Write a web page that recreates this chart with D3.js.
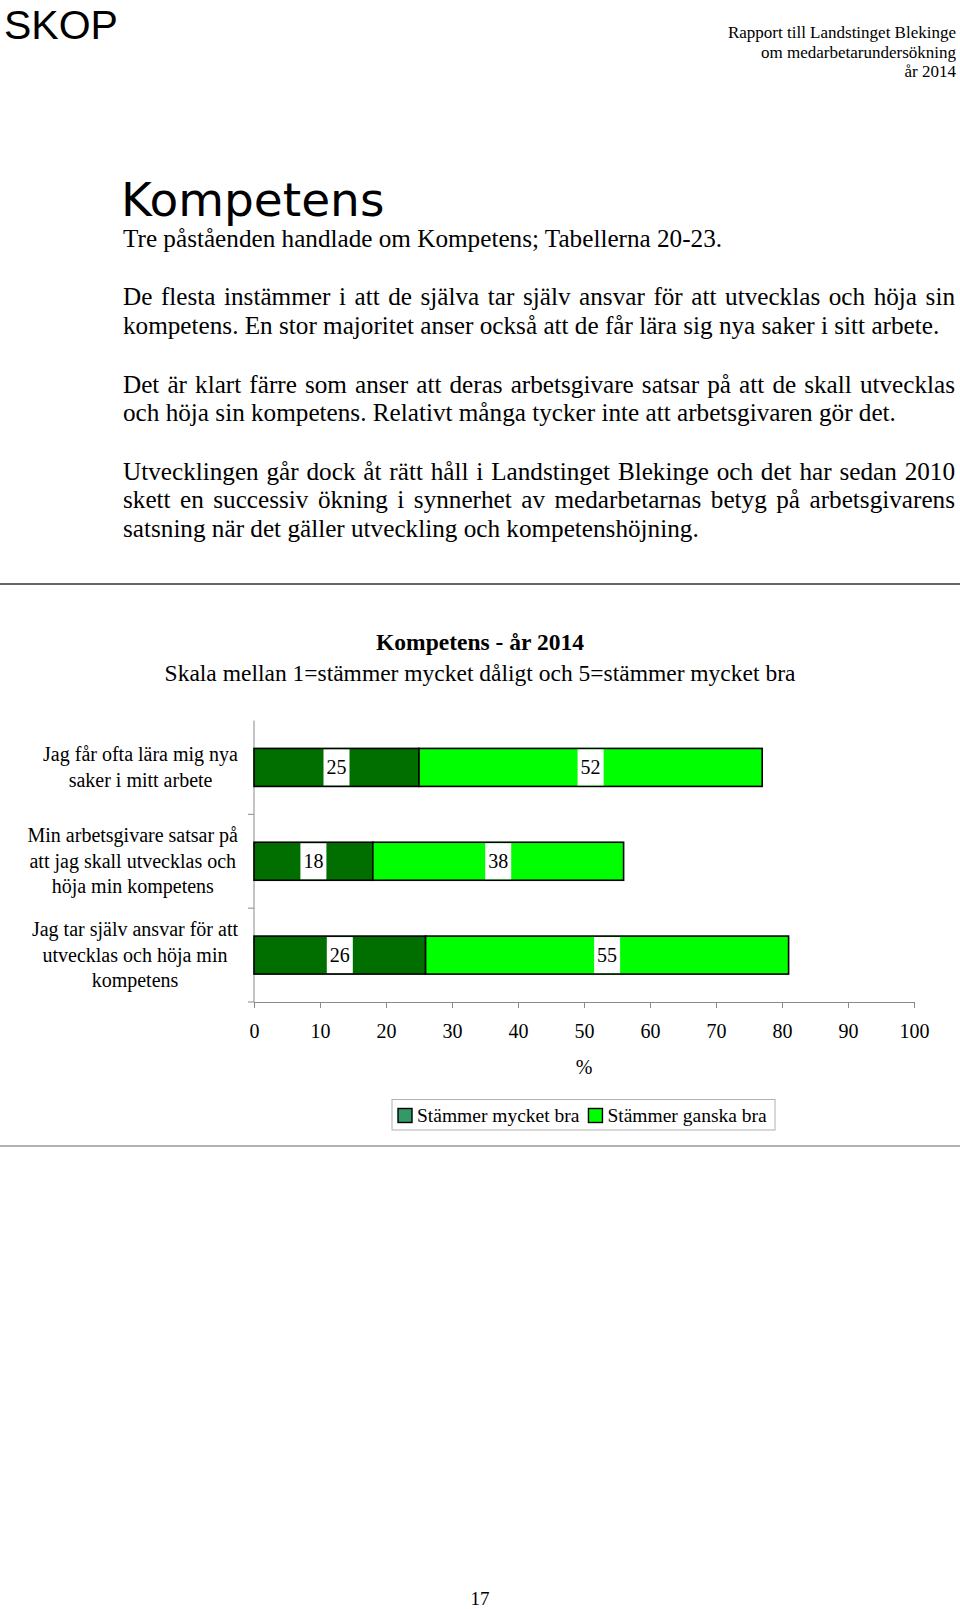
<!DOCTYPE html>
<html><head><meta charset="utf-8">
<script src="https://cdn.jsdelivr.net/npm/d3@7"></script>
<style>body{margin:0;background:#fff} svg{display:block}</style>
</head><body>
<svg id="page" width="960" height="1609"></svg>
<script>
// ---------- data ----------
const categoryLines = [
  ["Jag får ofta lära mig nya", "saker i mitt arbete"],
  ["Min arbetsgivare satsar på", "att jag skall utvecklas och", "höja min kompetens"],
  ["Jag tar själv ansvar för att", "utvecklas och höja min", "kompetens"]
];
const categories = categoryLines.map(l => l.join(" "));
const seriesNames = ["Stämmer mycket bra", "Stämmer ganska bra"];
const mycketBra = [25, 18, 26];
const ganskaBra = [52, 38, 55];
const xTickValues = [0, 10, 20, 30, 40, 50, 60, 70, 80, 90, 100];
const chartTitle = "Kompetens - år 2014";
const chartSubtitle = "Skala mellan 1=stämmer mycket dåligt och 5=stämmer mycket bra";
const xAxisTitle = "%";
const headerLeft = "SKOP";
const headerRight = ["Rapport till Landstinget Blekinge", "om medarbetarundersökning", "år 2014"];
const pageHeading = "Kompetens";
const paragraphs = [
  ["Tre påståenden handlade om Kompetens; Tabellerna 20-23."],
  ["De flesta instämmer i att de själva tar själv ansvar för att utvecklas och höja sin",
   "kompetens. En stor majoritet anser också att de får lära sig nya saker i sitt arbete."],
  ["Det är klart färre som anser att deras arbetsgivare satsar på att de skall utvecklas",
   "och höja sin kompetens. Relativt många tycker inte att arbetsgivaren gör det."],
  ["Utvecklingen går dock åt rätt håll i Landstinget Blekinge och det har sedan 2010",
   "skett en successiv ökning i synnerhet av medarbetarnas betyg på arbetsgivarens",
   "satsning när det gäller utveckling och kompetenshöjning."]
];
const pageNumber = "17";

// ---------- styles ----------
const serif = "'Liberation Serif','Times New Roman',serif";
const sans = "'Liberation Sans',Arial,sans-serif";
const colors = ["#006f00", "#00ff00"];
const legendColors = ["#339966", "#00ff00"];

const svg = d3.select("#page");
svg.append("rect").attr("width", 960).attr("height", 1609).attr("fill", "#fff");

// ---------- header ----------
svg.append("text").attr("x", 4).attr("y", 38.5).attr("font-family", sans)
  .attr("font-size", 41).attr("fill", "#000").text(headerLeft);
headerRight.forEach((t, i) => {
  svg.append("text").attr("x", 956).attr("y", 38 + i * 19.5).attr("text-anchor", "end")
    .attr("font-family", serif).attr("font-size", 17).attr("fill", "#000").text(t);
});

svg.append("text").attr("x", 121).attr("y", 216).attr("font-family", "'DejaVu Sans',Verdana,sans-serif")
  .attr("font-size", 47).attr("fill", "#000").text(pageHeading);

// ---------- body text with justification ----------
const bodySize = 25.2, bodyLeft = 123, bodyRight = 955;
const lineBaselines = [[246.5], [305, 334], [392.5, 421], [479.5, 508, 537]];
function measure(word) {
  const t = svg.append("text").attr("font-family", serif).attr("font-size", bodySize).text(word);
  const w = t.node().getComputedTextLength();
  t.remove();
  return w;
}
paragraphs.forEach((lines, pi) => {
  lines.forEach((line, li) => {
    const y = lineBaselines[pi][li];
    const isLast = li === lines.length - 1;
    const txt = svg.append("text").attr("font-family", serif).attr("font-size", bodySize)
      .attr("fill", "#000").attr("y", y);
    if (isLast) {
      txt.attr("x", bodyLeft).text(line);
    } else {
      const words = line.split(" ");
      const widths = words.map(measure);
      const total = d3.sum(widths);
      const gap = (bodyRight - bodyLeft - total) / (words.length - 1);
      let x = bodyLeft;
      words.forEach((w, wi) => {
        txt.append("tspan").attr("x", x).text(w);
        x += widths[wi] + gap;
      });
    }
  });
});

// ---------- rules ----------
svg.append("line").attr("x1", 0).attr("x2", 960).attr("y1", 584).attr("y2", 584)
  .attr("stroke", "#333").attr("stroke-width", 1.6);
svg.append("line").attr("x1", 0).attr("x2", 960).attr("y1", 1146).attr("y2", 1146)
  .attr("stroke", "#666").attr("stroke-width", 1.2);

// ---------- chart ----------
svg.append("text").attr("x", 480).attr("y", 650).attr("text-anchor", "middle")
  .attr("font-family", serif).attr("font-size", 23.5).attr("font-weight", "bold").text(chartTitle);
svg.append("text").attr("x", 480).attr("y", 681).attr("text-anchor", "middle")
  .attr("font-family", serif).attr("font-size", 23.5).text(chartSubtitle);

const plot = {left: 254, right: 914, top: 720.5, bottom: 1002};
const x = d3.scaleLinear().domain([0, 100]).range([plot.left, plot.right]);
const y = d3.scaleBand().domain(categories).range([plot.top, plot.bottom]).padding(0);
const barH = y.bandwidth() * 0.405;

const table = categories.map((c, i) => ({cat: c, s0: mycketBra[i], s1: ganskaBra[i]}));
const stack = d3.stack().keys(["s0", "s1"])(table);

// axes
const axisColor = "#8a8a8a";
const xAxis = svg.append("g").attr("transform", `translate(0,${plot.bottom})`)
  .call(d3.axisBottom(x).tickValues(xTickValues).tickSize(6).tickSizeOuter(0).tickPadding(16));
xAxis.select(".domain").attr("stroke", axisColor);
xAxis.selectAll(".tick line").attr("stroke", axisColor);
xAxis.selectAll(".tick text").attr("font-family", serif).attr("font-size", 20).attr("fill", "#000");

// y axis line with ticks at category boundaries
svg.append("line").attr("x1", plot.left).attr("x2", plot.left).attr("y1", plot.top).attr("y2", plot.bottom)
  .attr("stroke", axisColor);
const boundaries = categories.slice(1).map(c => y(c)).concat([plot.bottom]);
svg.selectAll(".ytick").data(boundaries).join("line").attr("class", "ytick")
  .attr("x1", plot.left - 6).attr("x2", plot.left).attr("y1", d => d).attr("y2", d => d)
  .attr("stroke", axisColor);

// bars
stack.forEach((series, si) => {
  svg.append("g").selectAll("rect").data(series).join("rect")
    .attr("x", d => x(d[0]))
    .attr("y", d => y(d.data.cat) + (y.bandwidth() - barH) / 2)
    .attr("width", d => x(d[1]) - x(d[0]))
    .attr("height", barH)
    .attr("fill", colors[si])
    .attr("stroke", "#000").attr("stroke-width", 1.6);
});

// value labels
stack.forEach((series, si) => {
  series.forEach(d => {
    const cx = (x(d[0]) + x(d[1])) / 2;
    const cy = y(d.data.cat) + y.bandwidth() / 2;
    const val = d[1] - d[0];
    const g = svg.append("g");
    const t = g.append("text").attr("x", cx).attr("y", cy + 7).attr("text-anchor", "middle")
      .attr("font-family", serif).attr("font-size", 20).attr("fill", "#000").text(val);
    const w = t.node().getComputedTextLength() + 6;
    g.insert("rect", "text").attr("x", cx - w / 2).attr("y", cy - barH / 2 + 1)
      .attr("width", w).attr("height", barH - 2).attr("fill", "#fff");
  });
});

// category labels: block right-aligned, lines centered
const labelRight = 238, labelSize = 20, labelLH = 25.5;
categoryLines.forEach((lines, i) => {
  const cy = y(categories[i]) + y.bandwidth() / 2;
  const g = svg.append("g");
  const texts = lines.map((l, li) => g.append("text")
    .attr("y", cy + (li - (lines.length - 1) / 2) * labelLH + 6.5)
    .attr("text-anchor", "middle").attr("font-family", serif).attr("font-size", labelSize)
    .attr("fill", "#000").text(l));
  const maxW = d3.max(texts, t => t.node().getComputedTextLength());
  texts.forEach(t => t.attr("x", labelRight - maxW / 2));
});

// x axis title
svg.append("text").attr("x", (plot.left + plot.right) / 2).attr("y", 1074).attr("text-anchor", "middle")
  .attr("font-family", serif).attr("font-size", 20).text(xAxisTitle);

// legend
const legend = svg.append("g");
legend.append("rect").attr("x", 392).attr("y", 1099.5).attr("width", 383).attr("height", 30.5)
  .attr("fill", "#fff").attr("stroke", "#b0b0b0").attr("stroke-width", 1);
let lx = 398;
seriesNames.forEach((name, i) => {
  legend.append("rect").attr("x", lx).attr("y", 1108.5).attr("width", 14).attr("height", 14)
    .attr("fill", legendColors[i]).attr("stroke", "#000").attr("stroke-width", 1.4);
  const t = legend.append("text").attr("x", lx + 19).attr("y", 1122).attr("font-family", serif)
    .attr("font-size", 19.5).attr("fill", "#000").text(name);
  lx += 19 + t.node().getComputedTextLength() + 9;
});

// page number
svg.append("text").attr("x", 480).attr("y", 1605).attr("text-anchor", "middle")
  .attr("font-family", serif).attr("font-size", 19).text(pageNumber);
</script>
</body></html>
